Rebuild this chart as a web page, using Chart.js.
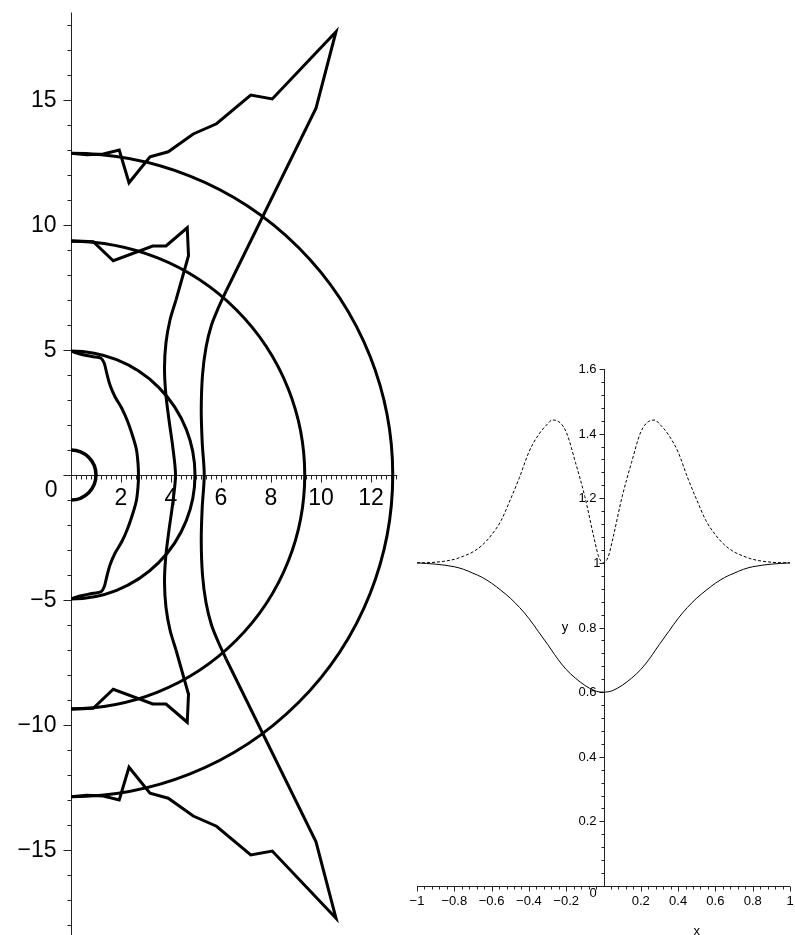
<!DOCTYPE html>
<html>
<head>
<meta charset="utf-8">
<script src="https://cdn.jsdelivr.net/npm/chart.js@4.4.0/dist/chart.umd.min.js"></script>
<style>
  html, body { margin: 0; padding: 0; background: #fff; }
  #left { position: absolute; left: 0; top: 0; }
  #right { position: absolute; left: 400px; top: 350px; }
</style>
</head>
<body>
<canvas id="left" width="400" height="935"></canvas>
<canvas id="right" width="395" height="585"></canvas>
<script>
// left plot: semicircle radii and the traced curves (upper halves, the lower halves are mirror images)
const radii = [1, 4.96, 9.35, 12.87];

const curveAX = [0, 0.36, 0.89, 1.2, 1.33, 1.43, 1.56, 1.76, 2.03, 2.27, 2.5, 2.62, 2.68, 2.7];
const curveAY = [4.96, 4.84, 4.73, 4.67, 4.47, 4.07, 3.6, 3.13, 2.67, 2.13, 1.45, 1.0, 0.47, 0];

const curveBZigX = [0, 0.89, 1.69, 3.27, 3.8, 4.65, 4.7, 4.2];
const curveBZigY = [9.37, 9.33, 8.57, 9.16, 9.16, 9.89, 8.77, 7.0];
const curveBX = [4.2, 3.96, 3.8, 3.74, 3.79, 3.92, 4.07, 4.18];
const curveBY = [7.0, 6.2, 5.3, 4.3, 3.27, 2.2, 1.13, 0];

const curveCZigX = [0, 0.63, 1.29, 1.93, 2.32, 3.16, 3.89, 4.89, 5.82, 7.19, 8.05, 10.6, 9.8, 6.2];
const curveCZigY = [12.87, 12.81, 12.84, 13.0, 11.69, 12.73, 12.93, 13.64, 14.05, 15.2, 15.04, 17.73, 14.67, 7.35];
const curveCX = [6.2, 5.9, 5.62, 5.4, 5.26, 5.21, 5.25, 5.33];
const curveCY = [7.35, 6.7, 6.0, 5.1, 4.0, 2.6, 1.27, 0];

const leftXTicks = [2, 4, 6, 8, 10, 12];
const leftYTicks = [-15, -10, -5, 5, 10, 15];

// right plot
const rightX = [-1, -0.9, -0.8, -0.75, -0.7, -0.65, -0.6, -0.55, -0.5, -0.45, -0.4, -0.35, -0.3, -0.275, -0.25, -0.2, -0.15, -0.1, -0.05, -0.025,
  0, 0.025, 0.05, 0.1, 0.15, 0.2, 0.25, 0.275, 0.3, 0.35, 0.4, 0.45, 0.5, 0.55, 0.6, 0.65, 0.7, 0.75, 0.8, 0.9, 1];
const solidY = [1.0, 0.996, 0.988, 0.98, 0.968, 0.955, 0.937, 0.915, 0.891, 0.862, 0.828, 0.788, 0.748, 0.727, 0.706, 0.670, 0.643, 0.621, 0.605, 0.601,
  0.60, 0.601, 0.605, 0.621, 0.643, 0.670, 0.706, 0.727, 0.748, 0.788, 0.828, 0.862, 0.891, 0.915, 0.937, 0.955, 0.968, 0.98, 0.988, 0.996, 1.0];
const dashedY = [1.0, 1.002, 1.011, 1.021, 1.034, 1.055, 1.087, 1.13, 1.195, 1.265, 1.343, 1.395, 1.43, 1.442, 1.44, 1.405, 1.31, 1.205, 1.075, 1.018,
  1.0, 1.018, 1.075, 1.205, 1.31, 1.405, 1.44, 1.442, 1.43, 1.395, 1.343, 1.265, 1.195, 1.13, 1.087, 1.055, 1.034, 1.021, 1.011, 1.002, 1.0];

const rightXTicks = [-1, -0.8, -0.6, -0.4, -0.2, 0.2, 0.4, 0.6, 0.8, 1];
const rightYTicks = [0.2, 0.4, 0.6, 0.8, 1, 1.2, 1.4, 1.6];

const MINUS = '\u2212';
const fmt = v => (v < 0 ? MINUS + String(-v) : String(v));

function pts(xs, ys) { return xs.map((v, i) => ({ x: v, y: ys[i] })); }
function flip(p) { return p.map(q => ({ x: q.x, y: -q.y })); }
function closeHalf(p) { return p.concat(flip(p).reverse().slice(1)); }

function line(data, tension) {
  return { data, showLine: true, borderColor: '#000', borderWidth: 3, pointRadius: 0, pointHoverRadius: 0, tension, fill: false };
}

const leftAxes = {
  id: 'leftAxes',
  beforeDatasetsDraw(chart) {
    const { ctx, scales: { x, y } } = chart;
    const x0 = Math.round(x.getPixelForValue(0)) + 0.5;
    const y0 = Math.round(y.getPixelForValue(0)) + 0.5;
    ctx.save();
    ctx.strokeStyle = '#222';
    ctx.lineWidth = 1;
    ctx.beginPath();
    ctx.moveTo(x0, y.getPixelForValue(18.5));
    ctx.lineTo(x0, chart.height);
    ctx.moveTo(x0, y0);
    ctx.lineTo(x.getPixelForValue(13.05), y0);
    for (let v = -18; v <= 18; v++) {
      const py = Math.round(y.getPixelForValue(v)) + 0.5;
      const len = v % 5 === 0 ? 8 : 4;
      ctx.moveTo(x0 - len, py);
      ctx.lineTo(x0, py);
    }
    for (let k = 1; k <= 65; k++) {
      const px = Math.round(x.getPixelForValue(k * 0.2)) + 0.5;
      const len = k % 10 === 0 ? 7 : 4;
      ctx.moveTo(px, y0);
      ctx.lineTo(px, y0 + len);
    }
    ctx.stroke();

    // semicircles
    ctx.strokeStyle = '#000';
    radii.forEach(r => {
      const rx = x.getPixelForValue(r) - x.getPixelForValue(0);
      const ry = y.getPixelForValue(0) - y.getPixelForValue(r);
      ctx.lineWidth = r < 2 ? 3.5 : 3;
      ctx.beginPath();
      ctx.ellipse(x.getPixelForValue(0), y.getPixelForValue(0), rx, ry, 0, -Math.PI / 2, Math.PI / 2);
      ctx.stroke();
    });

    ctx.fillStyle = '#000';
    ctx.font = '23px "Liberation Sans", Arial, sans-serif';
    ctx.textAlign = 'right';
    ctx.textBaseline = 'middle';
    leftYTicks.forEach(v => ctx.fillText(fmt(v), x0 - 15, y.getPixelForValue(v) + 1));
    ctx.textBaseline = 'alphabetic';
    ctx.fillText('0', x0 - 14, y0 + 21);
    ctx.textAlign = 'center';
    leftXTicks.forEach(v => ctx.fillText(fmt(v), x.getPixelForValue(v), y0 + 29));
    ctx.restore();
  }
};

const rightAxes = {
  id: 'rightAxes',
  beforeDatasetsDraw(chart) {
    const { ctx, scales: { x, y } } = chart;
    const x0 = Math.round(x.getPixelForValue(0)) + 0.5;
    const y0 = Math.round(y.getPixelForValue(0)) + 0.5;
    ctx.save();
    ctx.strokeStyle = '#222';
    ctx.lineWidth = 1;
    ctx.beginPath();
    ctx.moveTo(x0, y.getPixelForValue(1.6));
    ctx.lineTo(x0, y0);
    ctx.moveTo(x.getPixelForValue(-1), y0);
    ctx.lineTo(x.getPixelForValue(1), y0);
    for (let k = 1; k <= 40; k++) {
      const py = Math.round(y.getPixelForValue(k * 0.04)) + 0.5;
      const len = k % 5 === 0 ? 5 : 3;
      ctx.moveTo(x0 - len, py);
      ctx.lineTo(x0, py);
    }
    for (let k = -25; k <= 25; k++) {
      if (k === 0) continue;
      const px = Math.round(x.getPixelForValue(k * 0.04)) + 0.5;
      const len = k % 5 === 0 ? 5 : 3;
      ctx.moveTo(px, y0);
      ctx.lineTo(px, y0 + len);
    }
    ctx.stroke();

    ctx.fillStyle = '#000';
    ctx.font = '13px "Liberation Sans", Arial, sans-serif';
    ctx.textAlign = 'right';
    ctx.textBaseline = 'middle';
    rightYTicks.forEach(v => ctx.fillText(fmt(v), v === 1 ? x0 - 4 : x0 - 8, y.getPixelForValue(v) + 0.5));
    ctx.textAlign = 'center';
    ctx.textBaseline = 'alphabetic';
    rightXTicks.forEach(v => ctx.fillText(fmt(v), x.getPixelForValue(v), y0 + 18));
    ctx.fillText('0', x0 - 11.5, y0 + 10.5);
    ctx.textBaseline = 'middle';
    ctx.fillText('y', x0 - 39.5, y.getPixelForValue(0.8));
    ctx.fillText('x', x.getPixelForValue(0.5), y0 + 44.5);
    ctx.restore();
  }
};

new Chart(document.getElementById('left'), {
  type: 'scatter',
  data: {
    datasets: [
      line(closeHalf(pts(curveAX, curveAY)), 0.3),
      line(pts(curveBZigX, curveBZigY), 0),
      line(flip(pts(curveBZigX, curveBZigY)), 0),
      line(closeHalf(pts(curveBX, curveBY)), 0.3),
      line(pts(curveCZigX, curveCZigY), 0),
      line(flip(pts(curveCZigX, curveCZigY)), 0),
      line(closeHalf(pts(curveCX, curveCY)), 0.3)
    ]
  },
  options: {
    responsive: false,
    animation: false,
    devicePixelRatio: 1,
    events: [],
    layout: { padding: { left: 71, right: 0, top: 0, bottom: 0 } },
    scales: {
      x: { type: 'linear', min: 0, max: 13.16, display: false },
      y: { type: 'linear', min: -18.4, max: 19, display: false }
    },
    plugins: { legend: { display: false }, tooltip: { enabled: false } }
  },
  plugins: [leftAxes]
});

new Chart(document.getElementById('right'), {
  type: 'scatter',
  data: {
    datasets: [
      { data: pts(rightX, solidY), showLine: true, borderColor: '#000', borderWidth: 1, pointRadius: 0, cubicInterpolationMode: 'monotone' },
      { data: pts(rightX, dashedY), showLine: true, borderColor: '#000', borderWidth: 1, borderDash: [3, 2], pointRadius: 0, cubicInterpolationMode: 'monotone' }
    ]
  },
  options: {
    responsive: false,
    animation: false,
    devicePixelRatio: 1,
    events: [],
    layout: { padding: { left: 17, right: 5, top: 19, bottom: 49 } },
    scales: {
      x: { type: 'linear', min: -1, max: 1, display: false },
      y: { type: 'linear', min: 0, max: 1.6, display: false }
    },
    plugins: { legend: { display: false }, tooltip: { enabled: false } }
  },
  plugins: [rightAxes]
});
</script>
</body>
</html>
